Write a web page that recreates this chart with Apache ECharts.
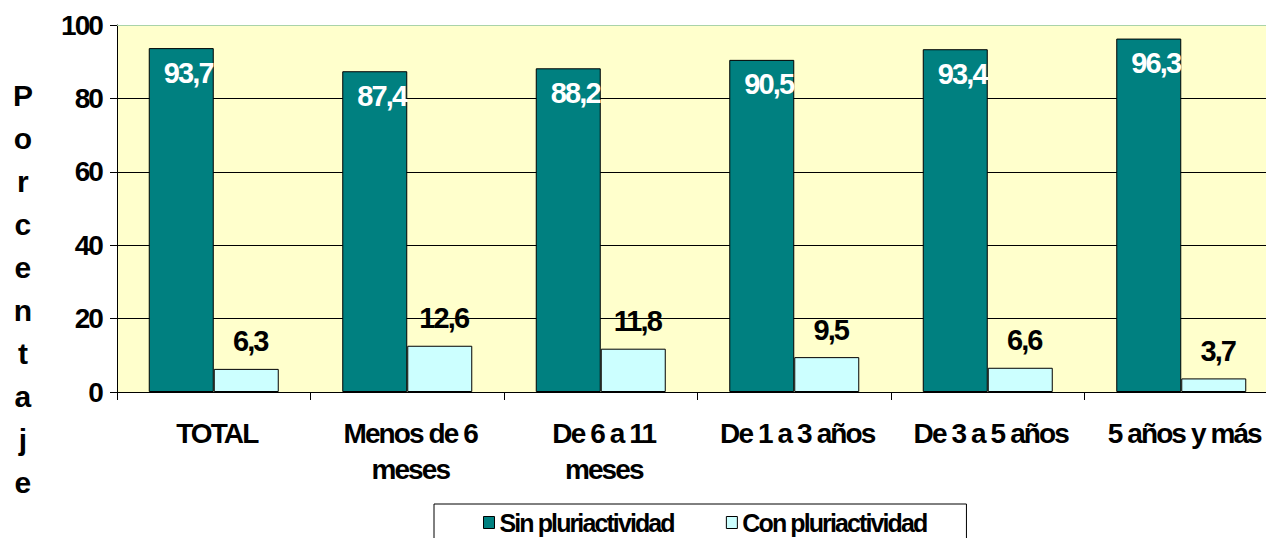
<!DOCTYPE html>
<html>
<head>
<meta charset="utf-8">
<script src="https://cdn.jsdelivr.net/npm/echarts@6/dist/echarts.min.js"></script>
<style>
  html, body { margin: 0; padding: 0; background: #ffffff; }
  #chart { width: 1266px; height: 538px; }
  /* tight, compressed bold lettering */
  #chart svg text { letter-spacing: -1.9px; }
</style>
</head>
<body>
<div id="chart"></div>
<script>
// Antigüedad en el empleo: porcentaje de trabajadores con y sin pluriactividad
const categories = ['TOTAL', 'Menos de 6\nmeses', 'De 6 a 11\nmeses', 'De 1 a 3 años', 'De 3 a 5 años', '5 años y más'];
const sinPluri = [93.7, 87.4, 88.2, 90.5, 93.4, 96.3];
const conPluri = [6.3, 12.6, 11.8, 9.5, 6.6, 3.7];
const seriesNames = ['Sin pluriactividad', 'Con pluriactividad'];
const yTitle = 'Porcentaje';

const FONT = '"Liberation Sans", Arial, sans-serif';
const fmt = p => String(p.value).replace('.', ',');

const chart = echarts.init(document.getElementById('chart'), null, { renderer: 'svg' });
chart.setOption({
  animation: false,
  backgroundColor: '#ffffff',
  textStyle: { fontFamily: FONT },
  grid: {
    left: 117, top: 25, right: -12, bottom: 146,
    outerBoundsMode: 'none', containLabel: false,
    show: true, backgroundColor: '#FFFFCC', borderWidth: 0
  },
  graphic: [
    {
      type: 'text', x: 22, y: 74,
      style: {
        text: yTitle.split('').join('\n'),
        font: 'bold 30px ' + FONT,
        fill: '#000', lineHeight: 43, align: 'center', verticalAlign: 'top'
      }
    }
  ],
  legend: {
    left: 434, top: 504,
    padding: [6, 6, 40, 49],
    borderColor: '#000', borderWidth: 1,
    backgroundColor: '#fff',
    itemWidth: 11, itemHeight: 12, itemGap: 18,
    icon: 'rect',
    textStyle: { fontFamily: FONT, fontWeight: 'bold', fontSize: 25, color: '#000' },
    data: seriesNames.map(n => ({ name: n, itemStyle: { borderColor: '#000', borderWidth: 1 } }))
  },
  xAxis: [
    {
      type: 'category', data: categories,
      axisLine: { lineStyle: { color: '#000', width: 1 } },
      axisTick: { show: true, length: 8, lineStyle: { color: '#000' } },
      axisLabel: {
        color: '#000', fontFamily: FONT, fontWeight: 'bold', fontSize: 28,
        lineHeight: 36, margin: 23, interval: 0, padding: [0, 0, 0, 6]
      }
    },
    {
      // pale upper edge of the plot area
      type: 'category', data: categories, position: 'top',
      axisLine: { show: true, lineStyle: { color: '#A9D3A9', width: 1 } },
      axisTick: { show: false }, axisLabel: { show: false }, splitLine: { show: false }
    }
  ],
  yAxis: {
    type: 'value', min: 0, max: 100, interval: 20,
    axisLine: { show: true, lineStyle: { color: '#000' } },
    axisTick: { show: true, length: 7, lineStyle: { color: '#000' } },
    axisLabel: { color: '#000', fontFamily: FONT, fontWeight: 'bold', fontSize: 28, margin: 15 },
    splitLine: { showMaxLine: false, lineStyle: { color: '#000', width: 1 } }
  },
  series: [
    {
      name: seriesNames[0], type: 'bar', data: sinPluri,
      barWidth: 65, barGap: '0%',
      itemStyle: { color: '#008080', borderColor: '#000', borderWidth: 1 },
      label: {
        show: true, position: 'insideTop', distance: 10, offset: [7, 0], formatter: fmt,
        color: '#fff', fontFamily: FONT, fontWeight: 'bold', fontSize: 29
      }
    },
    {
      name: seriesNames[1], type: 'bar', data: conPluri,
      barWidth: 65,
      itemStyle: { color: '#CCFFFF', borderColor: '#000', borderWidth: 1 },
      label: {
        show: true, position: 'top', distance: 13, offset: [4, 0], formatter: fmt,
        color: '#000', fontFamily: FONT, fontWeight: 'bold', fontSize: 29
      }
    }
  ]
});
</script>
</body>
</html>
